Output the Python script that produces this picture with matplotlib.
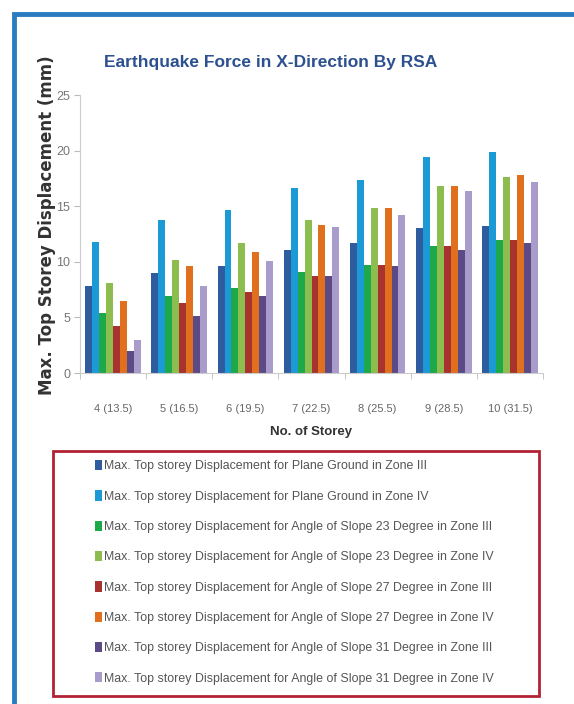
import matplotlib
matplotlib.use("Agg")
import matplotlib.pyplot as plt
import numpy as np
from matplotlib.patches import Rectangle

# Storey counts (building height in m)
storeys = ["4 (13.5)", "5 (16.5)", "6 (19.5)", "7 (22.5)", "8 (25.5)", "9 (28.5)", "10 (31.5)"]

# Max. top storey displacement (mm)
plane_z3 = [7.8, 9.0, 9.6, 11.1, 11.7, 13.0, 13.2]
plane_z4 = [11.8, 13.8, 14.7, 16.6, 17.4, 19.4, 19.9]
slope23_z3 = [5.4, 6.9, 7.6, 9.1, 9.7, 11.4, 12.0]
slope23_z4 = [8.1, 10.2, 11.7, 13.8, 14.8, 16.8, 17.6]
slope27_z3 = [4.2, 6.3, 7.3, 8.7, 9.7, 11.4, 12.0]
slope27_z4 = [6.5, 9.6, 10.9, 13.3, 14.8, 16.8, 17.8]
slope31_z3 = [2.0, 5.1, 6.9, 8.7, 9.6, 11.1, 11.7]
slope31_z4 = [3.0, 7.8, 10.1, 13.1, 14.2, 16.4, 17.2]

series_labels = [
    "Max. Top storey Displacement for Plane Ground in Zone III",
    "Max. Top storey Displacement for Plane Ground in Zone IV",
    "Max. Top storey Displacement for Angle of Slope 23 Degree in Zone III",
    "Max. Top storey Displacement for Angle of Slope 23 Degree in Zone IV",
    "Max. Top storey Displacement for Angle of Slope 27 Degree in Zone III",
    "Max. Top storey Displacement for Angle of Slope 27 Degree in Zone IV",
    "Max. Top storey Displacement for Angle of Slope 31 Degree in Zone III",
    "Max. Top storey Displacement for Angle of Slope 31 Degree in Zone IV",
]
series_values = [plane_z3, plane_z4, slope23_z3, slope23_z4,
                 slope27_z3, slope27_z4, slope31_z3, slope31_z4]
colors = ["#2E5C9E", "#1B9AD6", "#1DA84A", "#8CBD4E",
          "#A8322E", "#E0701E", "#5B4A86", "#A99CCB"]

font = "Liberation Sans"
W, H = 574, 704

fig = plt.figure(figsize=(W / 100, H / 100), dpi=100)
fig.patch.set_facecolor("white")

# blue outer frame (top and left edges)
fig.add_artist(Rectangle((14 / W, -0.1), 1.2, (H - 14) / H + 0.1,
                         transform=fig.transFigure, fill=False,
                         edgecolor="#2A7BC0", linewidth=3.5))

ax = fig.add_axes([80 / W, 1 - 373 / H, 463 / W, 278 / H])
n = len(series_values)
x = np.arange(len(storeys))
group_w = 0.84
bw = group_w / n
for i, (vals, c, lab) in enumerate(zip(series_values, colors, series_labels)):
    ax.bar(x - group_w / 2 + bw * (i + 0.5), vals, width=bw, color=c, label=lab,
           linewidth=0)

ax.set_xlim(-0.5, len(storeys) - 0.5)
ax.set_ylim(0, 25)
ax.set_yticks([0, 5, 10, 15, 20, 25])
ax.set_xticks(x)
ax.set_xticklabels(storeys, fontfamily=font, fontsize=8, color="#666666")
ax.set_xticks(np.arange(-0.5, len(storeys)), minor=True)
ax.tick_params(axis="x", which="major", length=0, pad=22)
ax.tick_params(axis="x", which="minor", length=4, color="#bbbbbb")
ax.tick_params(axis="y", length=4, color="#bbbbbb", labelsize=9, labelcolor="#777777", pad=3)
for lab in ax.get_yticklabels():
    lab.set_fontfamily(font)
for side in ("top", "right"):
    ax.spines[side].set_visible(False)
ax.spines["left"].set_color("#cccccc")
ax.spines["bottom"].set_color("#cccccc")

ax.set_xlabel("No. of Storey", fontfamily=font, fontweight="bold",
              fontsize=9.5, color="#333333", labelpad=9)
ax.set_ylabel("Max. Top Storey Displacement (mm)", fontfamily="DejaVu Sans",
              fontweight="bold", fontsize=12, color="#333333")
ax.yaxis.set_label_coords(-0.052, 0.53)

fig.text(271 / W, 1 - 62 / H, "Earthquake Force in X-Direction By RSA",
         ha="center", va="center", fontfamily=font, fontweight="bold",
         fontsize=12.5, color="#2D5090")

# legend inside a red box
fig.add_artist(Rectangle((53 / W, 1 - 696 / H), (539 - 53) / W, (696 - 451) / H,
                         transform=fig.transFigure, fill=False,
                         edgecolor="#B22234", linewidth=2))
handles, labels = ax.get_legend_handles_labels()
leg = fig.legend(handles, labels, loc="upper left",
                 bbox_to_anchor=(95 / W, 1 - 460 / H),
                 frameon=False, handlelength=0.55,
                 handleheight=0.9, handletextpad=0.2, labelspacing=1.45,
                 borderaxespad=0, borderpad=0,
                 prop={"family": font, "size": 8.9})
for t in leg.get_texts():
    t.set_color("#555555")

fig.savefig("out.png", dpi=100)
